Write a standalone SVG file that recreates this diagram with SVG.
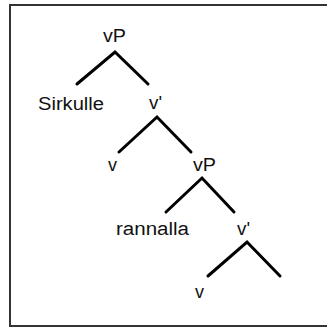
<svg xmlns="http://www.w3.org/2000/svg" width="327" height="328" viewBox="0 0 327 328">
<style>
.t{font-family:"Liberation Sans",Arial,sans-serif;font-size:18px;fill:#111}
.e{stroke:#000;stroke-width:3;stroke-linecap:round;fill:none}
</style>
<rect x="0" y="0" width="327" height="328" fill="#fff"/>
<rect id="frame" x="10" y="5" width="330" height="321" fill="none" stroke="#333" stroke-width="2"/>
<g id="connectors">
<polyline class="e" points="77,84 115,52 148,84"/>
<polyline class="e" points="119,152 157,117 191,152"/>
<polyline class="e" points="166,212 202,178 234,212"/>
<polyline class="e" points="208,276 247,242 280,276"/>
</g>
<g id="n1"><text class="t" x="103" y="41.5" textLength="23" lengthAdjust="spacingAndGlyphs">vP</text></g>
<g id="n2"><text class="t" x="38" y="110" textLength="66" lengthAdjust="spacingAndGlyphs">Sirkulle</text></g>
<g id="n3"><text class="t" x="149" y="109" textLength="13" lengthAdjust="spacingAndGlyphs">v'</text></g>
<g id="n4"><text class="t" x="108" y="171">v</text></g>
<g id="n5"><text class="t" x="193" y="171" textLength="23" lengthAdjust="spacingAndGlyphs">vP</text></g>
<g id="n6"><text class="t" x="116" y="235" textLength="73" lengthAdjust="spacingAndGlyphs">rannalla</text></g>
<g id="n7"><text class="t" x="237" y="235" textLength="13" lengthAdjust="spacingAndGlyphs">v'</text></g>
<g id="n8"><text class="t" x="195" y="298">v</text></g>
</svg>
